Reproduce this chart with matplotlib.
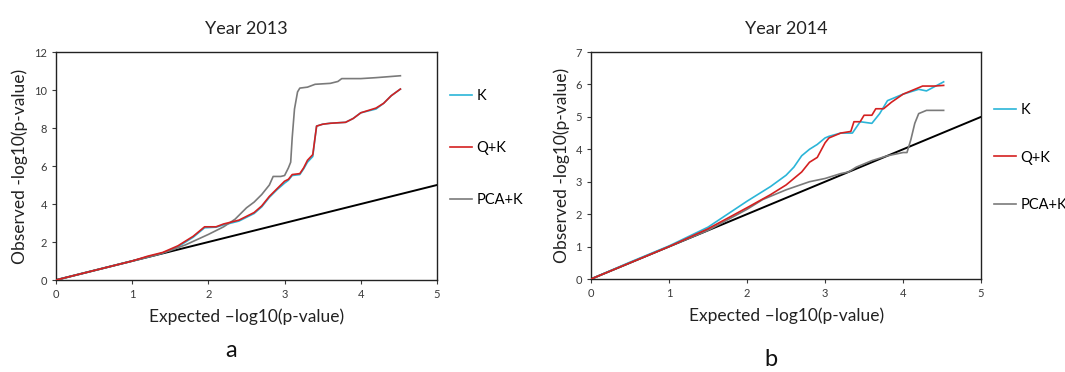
import matplotlib
matplotlib.use('Agg')
import matplotlib.pyplot as plt
import numpy as np

plt.rcParams['font.family'] = ['Lato', 'DejaVu Sans']

# Year 2013 (expected, observed)
k13_x = [0, 0.5, 1.0, 1.2, 1.4, 1.6, 1.8, 1.95, 2.1, 2.2, 2.4, 2.6, 2.7, 2.8, 2.9, 3.0, 3.05, 3.1, 3.2, 3.25, 3.3, 3.37, 3.4, 3.42, 3.5, 3.6, 3.8, 3.9, 4.0, 4.2, 4.3, 4.4, 4.52]
k13_y = [0, 0.5, 1.0, 1.22, 1.42, 1.75, 2.25, 2.75, 2.78, 2.9, 3.1, 3.5, 3.85, 4.35, 4.75, 5.1, 5.25, 5.5, 5.55, 5.85, 6.2, 6.5, 7.5, 8.1, 8.2, 8.25, 8.3, 8.5, 8.8, 9.0, 9.3, 9.7, 10.05]
qk13_x = [0, 0.5, 1.0, 1.2, 1.4, 1.6, 1.8, 1.95, 2.1, 2.2, 2.4, 2.6, 2.7, 2.8, 2.9, 3.0, 3.05, 3.1, 3.2, 3.25, 3.3, 3.37, 3.4, 3.42, 3.5, 3.6, 3.8, 3.9, 4.0, 4.2, 4.3, 4.4, 4.52]
qk13_y = [0, 0.5, 1.0, 1.25, 1.45, 1.8, 2.3, 2.8, 2.8, 2.95, 3.15, 3.55, 3.9, 4.4, 4.8, 5.2, 5.3, 5.55, 5.6, 5.9, 6.3, 6.6, 7.5, 8.1, 8.2, 8.25, 8.3, 8.5, 8.8, 9.05, 9.3, 9.7, 10.05]
pca13_x = [0, 0.5, 1.0, 1.3, 1.5, 1.7, 2.0, 2.2, 2.35, 2.5, 2.6, 2.7, 2.8, 2.85, 2.95, 3.0, 3.05, 3.08, 3.1, 3.13, 3.17, 3.2, 3.3, 3.4, 3.6, 3.7, 3.75, 4.0, 4.2, 4.52]
pca13_y = [0, 0.5, 1.0, 1.3, 1.55, 1.85, 2.4, 2.8, 3.2, 3.8, 4.1, 4.5, 5.0, 5.45, 5.45, 5.5, 5.9, 6.2, 7.5, 9.0, 9.9, 10.1, 10.15, 10.3, 10.35, 10.45, 10.6, 10.6, 10.65, 10.75]

# Year 2014
k14_x = [0, 0.5, 1.0, 1.5, 2.0, 2.3, 2.5, 2.6, 2.7, 2.8, 2.9, 3.0, 3.05, 3.2, 3.35, 3.45, 3.6, 3.7, 3.8, 4.0, 4.2, 4.3, 4.52]
k14_y = [0, 0.52, 1.02, 1.6, 2.4, 2.85, 3.2, 3.45, 3.8, 4.0, 4.15, 4.35, 4.4, 4.5, 4.5, 4.85, 4.8, 5.1, 5.5, 5.7, 5.85, 5.8, 6.08]
qk14_x = [0, 0.5, 1.0, 1.5, 2.0, 2.3, 2.5, 2.7, 2.8, 2.9, 3.0, 3.05, 3.2, 3.33, 3.37, 3.45, 3.5, 3.6, 3.65, 3.75, 3.85, 4.0, 4.25, 4.4, 4.52]
qk14_y = [0, 0.5, 1.0, 1.55, 2.2, 2.6, 2.9, 3.3, 3.6, 3.75, 4.2, 4.35, 4.5, 4.55, 4.85, 4.85, 5.05, 5.05, 5.25, 5.25, 5.45, 5.7, 5.95, 5.95, 5.97]
pca14_x = [0, 0.5, 1.0, 1.5, 2.0, 2.2, 2.5, 2.8, 3.0, 3.2, 3.3, 3.4, 3.5, 3.6, 3.8, 4.0, 4.05, 4.1, 4.15, 4.2, 4.3, 4.52]
pca14_y = [0, 0.5, 1.0, 1.5, 2.15, 2.45, 2.75, 3.0, 3.1, 3.25, 3.3, 3.45, 3.55, 3.65, 3.8, 3.9, 3.9, 4.3, 4.8, 5.1, 5.2, 5.2]

diag_x = [0, 5]
diag_y = [0, 5]

fig = plt.figure(figsize=(10.65, 3.72), dpi=100)
ax1 = fig.add_axes([0.0526, 0.2473, 0.3577, 0.6129])
ax2 = fig.add_axes([0.555, 0.25, 0.3662, 0.6102])

panels = [
    (ax1, 'Year 2013', (k13_x, k13_y), (qk13_x, qk13_y), (pca13_x, pca13_y), 12, 2, 'a', 2.6, 0.58, -0.31),
    (ax2, 'Year 2014', (k14_x, k14_y), (qk14_x, qk14_y), (pca14_x, pca14_y), 7, 1, 'b', 2.3, 0.535, -0.355),
]

for ax, title, k, qk, pca, ymax, ystep, letter, lsp, ly, ty in panels:
    ax.plot(diag_x, diag_y, color='black', lw=1.4, zorder=1)
    l1, = ax.plot(k[0], k[1], color='#2bb5d8', lw=1.2, label='K', zorder=2)
    l2, = ax.plot(qk[0], qk[1], color='#d42020', lw=1.2, label='Q+K', zorder=3)
    l3, = ax.plot(pca[0], pca[1], color='#7a7a7a', lw=1.2, label='PCA+K', zorder=2)
    ax.set_xlim(0, 5)
    ax.set_ylim(0, ymax)
    ax.set_xticks(range(0, 6))
    ax.set_yticks(range(0, ymax + 1, ystep))
    ax.tick_params(labelsize=8, colors='#3a3a3a', length=3, width=0.8)
    for s in ax.spines.values():
        s.set_linewidth(1.0)
        s.set_color('#222222')
    ax.set_title(title, fontsize=13, pad=13, color='#222222')
    ax.set_xlabel('Expected \u2013log10(p-value)', fontsize=12.5, labelpad=6, color='#222222')
    ax.set_ylabel('Observed -log10(p-value)', fontsize=12.5, labelpad=4, color='#222222')
    ax.legend(handles=[l1, l2, l3], loc='center left', bbox_to_anchor=(1.0, ly),
              frameon=False, fontsize=10.5, handlelength=1.5, handletextpad=0.3,
              labelspacing=lsp)
    ax.text(0.46, ty, letter, transform=ax.transAxes, fontsize=17,
            ha='center', va='center', color='#111111')

fig.savefig('out.png', dpi=100)
